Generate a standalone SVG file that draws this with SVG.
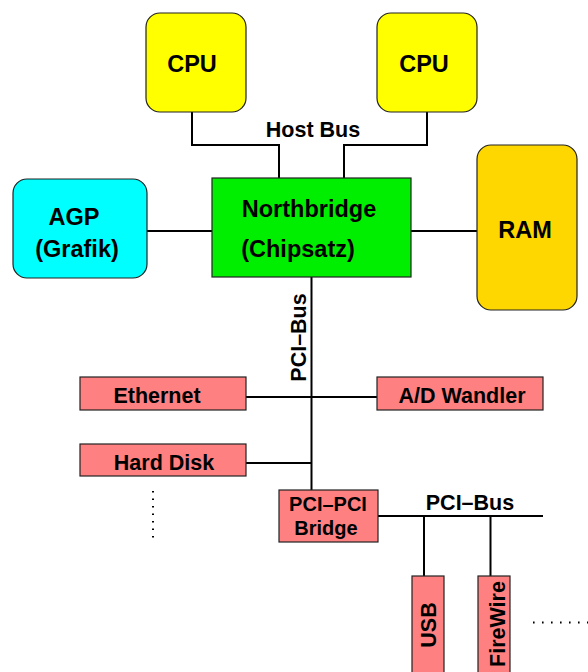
<svg xmlns="http://www.w3.org/2000/svg" width="588" height="672" viewBox="0 0 588 672">
<style>
.box{stroke:#222;stroke-width:1.2}
.big{font-family:"Liberation Sans",Arial,sans-serif;font-weight:bold;font-size:23.5px;fill:#000;text-anchor:middle}
.sm{font-family:"Liberation Sans",Arial,sans-serif;font-weight:bold;font-size:21.5px;fill:#000;text-anchor:middle}
.br{font-family:"Liberation Sans",Arial,sans-serif;font-weight:bold;font-size:20px;fill:#000;text-anchor:middle}
.ln{stroke:#000;stroke-width:2;fill:none}
.dot{stroke:#000;stroke-width:2;fill:none}
</style>
<rect width="588" height="672" fill="#fff"/>
<g id="connectors">
<polyline class="ln" points="192,112 192,145 279,145 279,178"/>
<polyline class="ln" points="427,112 427,145 344,145 344,178"/>
<line class="ln" x1="147" y1="231" x2="212" y2="231"/>
<line class="ln" x1="411" y1="231" x2="477" y2="231"/>
<line class="ln" x1="311.5" y1="277" x2="311.5" y2="490"/>
<line class="ln" x1="246" y1="397" x2="377" y2="397"/>
<line class="ln" x1="246" y1="463" x2="311.5" y2="463"/>
<line class="ln" x1="378" y1="516" x2="543" y2="516"/>
<line class="ln" x1="424" y1="516" x2="424" y2="576"/>
<line class="ln" x1="490.5" y1="516" x2="490.5" y2="576"/>
<line class="dot" x1="153" y1="491" x2="153" y2="539" stroke-dasharray="1.6 5.9"/>
<line class="dot" x1="533" y1="622.5" x2="588" y2="622.5" stroke-dasharray="1.6 7.4"/>
<text class="sm" x="313" y="137">Host Bus</text>
<text class="sm" transform="translate(306,337.5) rotate(-90)" x="0" y="0">PCI–Bus</text>
<text class="sm" x="470" y="510">PCI–Bus</text>
</g>
<g id="cpu1">
<rect class="box" x="146" y="13" width="100" height="99" rx="14" fill="#ffff00"/>
<text class="big" x="192" y="72">CPU</text>
</g>
<g id="cpu2">
<rect class="box" x="377" y="13" width="100" height="99" rx="14" fill="#ffff00"/>
<text class="big" x="424" y="72">CPU</text>
</g>
<g id="agp">
<rect class="box" x="13" y="179" width="134" height="99" rx="14" fill="#00ffff"/>
<text class="big" x="74" y="225">AGP</text>
<text class="big" x="77" y="257">(Grafik)</text>
</g>
<g id="northbridge">
<rect class="box" x="212" y="178" width="199" height="99" fill="#00ee00"/>
<text class="big" x="309" y="217">Northbridge</text>
<text class="big" x="298" y="257">(Chipsatz)</text>
</g>
<g id="ram">
<rect class="box" x="477" y="145" width="100" height="165" rx="14" fill="#ffd700"/>
<text class="big" x="525" y="238">RAM</text>
</g>
<g id="ethernet">
<rect class="box" x="80" y="377" width="166" height="33" fill="#ff8080"/>
<text class="sm" x="157" y="403">Ethernet</text>
</g>
<g id="adwandler">
<rect class="box" x="377" y="377" width="166" height="33" fill="#ff8080"/>
<text class="sm" x="462" y="403">A/D Wandler</text>
</g>
<g id="harddisk">
<rect class="box" x="80" y="444" width="166" height="32" fill="#ff8080"/>
<text class="sm" x="164" y="470">Hard Disk</text>
</g>
<g id="bridge">
<rect class="box" x="279" y="490" width="99" height="52" fill="#ff8080"/>
<text class="br" x="328" y="511">PCI–PCI</text>
<text class="br" x="326" y="535">Bridge</text>
</g>
<g id="usb">
<rect class="box" x="412" y="576" width="32" height="100" fill="#ff8080"/>
<text class="sm" transform="translate(436,625) rotate(-90)" x="0" y="0">USB</text>
</g>
<g id="firewire">
<rect class="box" x="478" y="576" width="32" height="100" fill="#ff8080"/>
<text class="sm" transform="translate(505,624) rotate(-90)" x="0" y="0">FireWire</text>
</g>
</svg>
